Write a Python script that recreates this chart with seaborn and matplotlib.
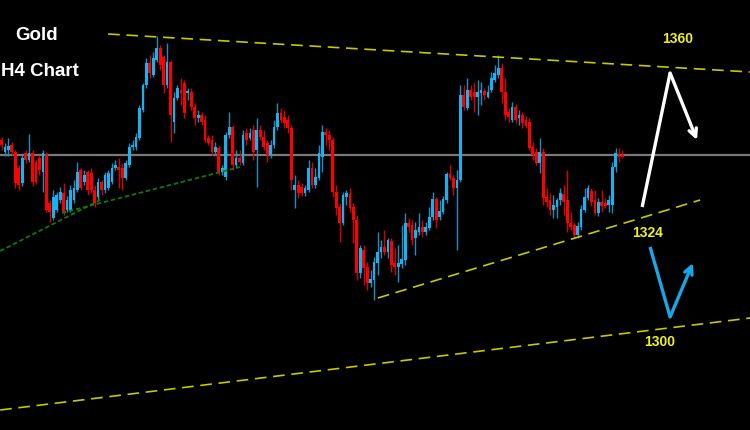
import numpy as np
import pandas as pd
import matplotlib
matplotlib.use("Agg")
import matplotlib.pyplot as plt
import seaborn as sns

# H4 gold candles (price units)
opens = [
    1342.0, 1339.6, 1340.0, 1341.0, 1339.6, 1336.4, 1333.4, 1339.4, 1338.0, 1339.4,
    1337.6, 1338.4, 1335.6, 1339.0, 1329.4, 1326.4, 1328.0, 1330.0, 1331.4, 1328.0,
    1328.0, 1330.0, 1332.0, 1336.0, 1333.6, 1335.6, 1335.4, 1332.0, 1330.6, 1333.6,
    1332.0, 1332.4, 1333.6, 1336.4, 1336.6, 1336.4, 1334.4, 1337.0, 1340.6, 1340.6,
    1342.4, 1348.0, 1353.0, 1357.4, 1355.0, 1358.0, 1360.4, 1358.6, 1353.0, 1357.6,
    1345.6, 1350.4, 1352.0, 1353.4, 1351.4, 1351.6, 1348.6, 1346.4, 1347.0, 1346.0,
    1342.4, 1342.0, 1339.6, 1340.4, 1335.6, 1334.6, 1343.0, 1344.6, 1337.0, 1338.4,
    1337.4, 1343.4, 1342.4, 1344.0, 1340.0, 1344.0, 1342.6, 1341.4, 1339.0, 1341.0,
    1344.6, 1347.4, 1346.6, 1346.0, 1344.4, 1332.0, 1333.0, 1332.6, 1331.4, 1332.0,
    1336.4, 1333.0, 1334.4, 1338.6, 1343.6, 1343.0, 1342.0, 1331.6, 1328.6, 1325.4,
    1330.6, 1331.2, 1328.6, 1326.0, 1315.4, 1320.0, 1316.6, 1313.4, 1314.0, 1317.4,
    1319.6, 1320.6, 1319.6, 1321.8, 1317.4, 1316.6, 1317.2, 1318.0, 1325.4, 1325.0,
    1322.4, 1323.6, 1324.6, 1323.6, 1324.4, 1326.6, 1330.2, 1326.6, 1327.6, 1330.0,
    1335.2, 1334.4, 1332.4, 1334.0, 1351.0, 1348.4, 1352.0, 1351.6, 1350.6, 1351.4,
    1351.8, 1350.6, 1352.0, 1354.0, 1355.0, 1356.4, 1351.6, 1347.6, 1346.0, 1348.6,
    1346.4, 1347.0, 1346.0, 1345.6, 1340.6, 1339.6, 1337.4, 1339.6, 1330.6, 1330.0,
    1328.0, 1328.6, 1330.0, 1331.2, 1330.0, 1325.4, 1325.0, 1323.0, 1324.6, 1328.0,
    1330.4, 1331.8, 1330.0, 1327.4, 1329.6, 1329.4, 1329.0, 1329.0, 1336.6, 1339.2,
    1338.8,
]
highs = [
    1342.6, 1341.4, 1342.4, 1341.6, 1340.0, 1337.0, 1339.4, 1340.0, 1343.2, 1340.0,
    1338.0, 1339.0, 1340.0, 1339.6, 1330.0, 1332.0, 1331.6, 1332.6, 1333.4, 1330.8,
    1333.0, 1334.0, 1337.6, 1336.4, 1336.0, 1336.0, 1336.4, 1333.0, 1334.4, 1334.0,
    1335.6, 1336.0, 1337.4, 1338.0, 1338.4, 1337.4, 1338.0, 1341.4, 1342.0, 1343.4,
    1349.0, 1353.4, 1358.4, 1359.0, 1359.6, 1362.8, 1361.0, 1359.0, 1361.4, 1358.0,
    1351.6, 1353.0, 1354.4, 1354.0, 1352.4, 1352.4, 1349.4, 1348.0, 1347.6, 1347.0,
    1343.0, 1343.0, 1341.6, 1341.0, 1337.0, 1343.6, 1347.6, 1345.0, 1340.0, 1340.0,
    1344.0, 1344.4, 1344.4, 1345.0, 1346.4, 1345.0, 1344.0, 1342.0, 1342.0, 1346.0,
    1349.4, 1348.4, 1348.0, 1347.0, 1345.0, 1335.0, 1334.0, 1333.4, 1333.0, 1338.0,
    1337.6, 1336.4, 1341.0, 1345.0, 1344.4, 1344.0, 1342.6, 1333.0, 1329.4, 1331.6,
    1332.0, 1332.4, 1329.4, 1327.0, 1321.0, 1321.0, 1317.6, 1316.0, 1318.6, 1323.6,
    1322.0, 1324.0, 1322.4, 1322.4, 1320.4, 1321.0, 1325.0, 1327.4, 1326.4, 1326.0,
    1325.6, 1327.4, 1326.0, 1325.6, 1328.6, 1331.6, 1330.6, 1330.0, 1330.8, 1335.6,
    1337.0, 1335.0, 1336.0, 1353.0, 1353.0, 1354.4, 1353.0, 1353.6, 1354.0, 1353.6,
    1352.4, 1353.0, 1355.6, 1357.0, 1359.0, 1357.4, 1354.4, 1348.4, 1349.6, 1349.2,
    1348.0, 1347.6, 1346.8, 1346.4, 1341.6, 1340.4, 1342.4, 1340.4, 1332.4, 1331.4,
    1331.0, 1330.4, 1332.4, 1333.0, 1336.0, 1327.6, 1325.6, 1325.6, 1329.0, 1332.4,
    1333.0, 1332.4, 1332.0, 1330.4, 1332.0, 1330.4, 1331.0, 1337.6, 1340.4, 1340.4,
    1340.0,
]
lows = [
    1340.0, 1338.8, 1338.8, 1339.0, 1332.4, 1332.0, 1332.8, 1337.4, 1337.6, 1332.8,
    1333.2, 1335.0, 1331.6, 1327.6, 1325.6, 1326.0, 1327.6, 1329.4, 1327.0, 1327.6,
    1327.6, 1329.4, 1331.6, 1332.0, 1333.0, 1331.0, 1331.4, 1328.6, 1330.0, 1331.0,
    1331.4, 1332.0, 1333.2, 1336.0, 1332.4, 1332.0, 1334.0, 1336.6, 1340.0, 1340.0,
    1342.0, 1347.6, 1352.4, 1354.4, 1354.6, 1357.6, 1356.0, 1351.4, 1352.4, 1341.6,
    1343.4, 1350.0, 1349.0, 1346.4, 1350.0, 1348.0, 1345.0, 1345.6, 1345.0, 1341.6,
    1341.0, 1339.0, 1339.0, 1335.0, 1335.0, 1334.0, 1342.4, 1336.0, 1336.4, 1337.0,
    1337.0, 1341.0, 1342.0, 1338.0, 1332.6, 1342.0, 1340.0, 1337.6, 1338.4, 1340.4,
    1344.0, 1345.4, 1344.4, 1343.4, 1332.0, 1328.4, 1330.4, 1330.8, 1330.8, 1331.6,
    1332.4, 1332.4, 1334.0, 1335.6, 1341.0, 1340.0, 1330.6, 1327.0, 1321.6, 1325.0,
    1329.0, 1327.6, 1321.4, 1314.0, 1314.4, 1313.0, 1312.0, 1312.6, 1310.0, 1315.0,
    1318.4, 1319.0, 1318.4, 1315.6, 1315.0, 1313.6, 1316.4, 1317.0, 1323.6, 1321.0,
    1319.0, 1323.0, 1322.6, 1323.0, 1324.0, 1326.0, 1324.4, 1326.0, 1327.2, 1329.4,
    1334.0, 1331.0, 1320.0, 1333.6, 1348.0, 1348.0, 1350.0, 1347.6, 1347.0, 1349.0,
    1350.0, 1350.4, 1351.6, 1353.6, 1354.4, 1349.4, 1346.0, 1345.6, 1345.6, 1345.4,
    1345.0, 1344.4, 1344.4, 1340.0, 1338.0, 1337.0, 1335.4, 1329.0, 1328.6, 1327.0,
    1326.4, 1326.4, 1329.0, 1327.0, 1323.6, 1324.0, 1322.4, 1322.4, 1324.0, 1327.6,
    1330.0, 1328.8, 1327.0, 1326.8, 1327.6, 1328.4, 1327.6, 1327.4, 1335.6, 1337.6,
    1338.4,
]
closes = [
    1341.0, 1340.6, 1340.8, 1339.6, 1333.4, 1333.0, 1338.4, 1338.0, 1339.4, 1333.6,
    1333.6, 1336.0, 1339.4, 1328.0, 1327.6, 1330.6, 1331.0, 1331.6, 1327.4, 1330.0,
    1332.0, 1332.4, 1335.6, 1332.4, 1335.0, 1332.0, 1332.0, 1329.4, 1333.6, 1332.0,
    1335.0, 1335.4, 1336.4, 1337.0, 1336.0, 1334.4, 1337.4, 1340.6, 1341.0, 1342.6,
    1348.4, 1353.0, 1357.4, 1355.4, 1358.4, 1360.4, 1357.0, 1353.0, 1357.6, 1347.0,
    1350.4, 1352.4, 1351.4, 1347.4, 1351.6, 1348.6, 1346.4, 1347.0, 1345.6, 1342.0,
    1341.4, 1339.6, 1340.6, 1335.4, 1336.4, 1343.0, 1344.6, 1337.0, 1338.4, 1337.6,
    1343.0, 1342.0, 1343.4, 1339.6, 1344.0, 1342.6, 1340.6, 1339.0, 1341.0, 1344.6,
    1347.4, 1346.0, 1345.4, 1344.4, 1334.0, 1333.0, 1331.4, 1331.4, 1332.4, 1336.4,
    1333.0, 1334.6, 1339.4, 1343.6, 1343.0, 1342.0, 1331.6, 1328.4, 1325.4, 1331.0,
    1331.4, 1328.4, 1326.0, 1315.4, 1320.4, 1316.4, 1313.4, 1314.2, 1317.6, 1319.6,
    1320.6, 1319.6, 1322.0, 1317.0, 1316.6, 1317.4, 1318.2, 1325.4, 1324.6, 1322.0,
    1324.0, 1324.6, 1323.6, 1324.6, 1326.6, 1330.2, 1326.0, 1327.8, 1330.2, 1335.2,
    1334.4, 1332.4, 1334.0, 1351.0, 1348.6, 1352.0, 1350.6, 1350.6, 1351.6, 1352.0,
    1351.0, 1351.6, 1354.4, 1355.4, 1356.4, 1351.6, 1347.0, 1346.6, 1348.6, 1346.0,
    1347.0, 1345.4, 1344.8, 1340.4, 1339.0, 1337.4, 1339.6, 1330.4, 1329.6, 1328.0,
    1329.0, 1330.0, 1331.4, 1329.6, 1325.4, 1324.6, 1323.0, 1324.8, 1328.2, 1330.6,
    1332.4, 1329.6, 1327.4, 1329.6, 1328.8, 1328.8, 1330.0, 1336.6, 1339.4, 1338.6,
    1338.6,
]

# hand-drawn lines and labels, in (candle index, price)
top_line = ([30.9, 217.0], [1363.2, 1355.6])
channel_low = ([109.1, 202.5], [1310.4, 1330.0])
bottom_line = ([-0.4, 217.0], [1288.0, 1306.4])
green_a = ([-0.4, 28.6], [1319.8, 1330.0])
green_b = ([17.5, 69.1], [1327.4, 1336.6])
price_now = 1339.0
white_path = ([185.7, 193.8, 201.6], [1328.6, 1355.4, 1342.0])
blue_path = ([188.0, 193.8, 200.4], [1320.6, 1306.6, 1317.4])
level_labels = ["1360", "1324", "1300"]
level_pos = [(196.1, 1362.2), (187.4, 1323.4), (190.9, 1301.6)]

sns.set_theme(style="dark")
plt.rcParams["font.family"] = ["Liberation Sans", "DejaVu Sans"]

df = pd.DataFrame({"open": opens, "high": highs, "low": lows, "close": closes})
df["i"] = np.arange(len(df))
up = df["close"] >= df["open"]
blue, red = "#12b4f2", "#ff0000"
colors = np.where(up, blue, red)
wick_colors = np.where(up, "#1592c4", "#d80000")

fig = plt.figure(figsize=(7.5, 4.3), dpi=100)
fig.patch.set_facecolor("black")
ax = fig.add_axes([0, 0, 1, 1])
ax.set_facecolor("black")

ax.axhline(price_now, color="#7a7a7a", lw=1.6, zorder=1)

# candles
ax.vlines(df["i"], df["low"], df["high"], colors=wick_colors, lw=1.0, zorder=2)
body = (df["close"] - df["open"]).abs().clip(lower=0.4)
bottom = df[["open", "close"]].min(axis=1)
ax.bar(df["i"], body, bottom=bottom, width=0.8, color=colors, linewidth=0, zorder=3)

# trend lines
yellow = "#c8c800"
for xs, ys in [top_line, channel_low, bottom_line]:
    sns.lineplot(x=xs, y=ys, ax=ax, color=yellow, lw=1.2,
                 linestyle=(0, (7, 4)), zorder=4)
for xs, ys in [green_a, green_b]:
    sns.lineplot(x=xs, y=ys, ax=ax, color="#0d7a0d", lw=1.3,
                 linestyle=(0, (2.5, 1.5)), zorder=4)

# scenario arrows
for (xs, ys), c in [(white_path, "white"), (blue_path, "#1aa7e8")]:
    ax.plot(xs[:2], ys[:2], color=c, lw=2.4, solid_capstyle="butt", zorder=5)
    ax.annotate("", xy=(xs[2], ys[2]), xytext=(xs[1], ys[1]),
                arrowprops=dict(arrowstyle="->", color=c, lw=2.4,
                                mutation_scale=14, shrinkA=0, shrinkB=0),
                zorder=5)

for lab, (x, y) in zip(level_labels, level_pos):
    ax.text(x, y, lab, color="#f0f020", fontsize=10, fontweight="bold",
            ha="center", va="center", zorder=6)

fig.text(37 / 750, 1 - 35 / 430, "Gold", color="white", fontsize=13.5,
         fontweight="bold", ha="center", va="center")
fig.text(0.001, 1 - 71 / 430, "H4 Chart", color="white", fontsize=13.5,
         fontweight="bold", ha="left", va="center")

ax.set_xlim(-0.435, 216.96)
ax.set_ylim(1284, 1370)
ax.set_axis_off()

fig.savefig("out.png", dpi=100, facecolor="black")
plt.close(fig)
